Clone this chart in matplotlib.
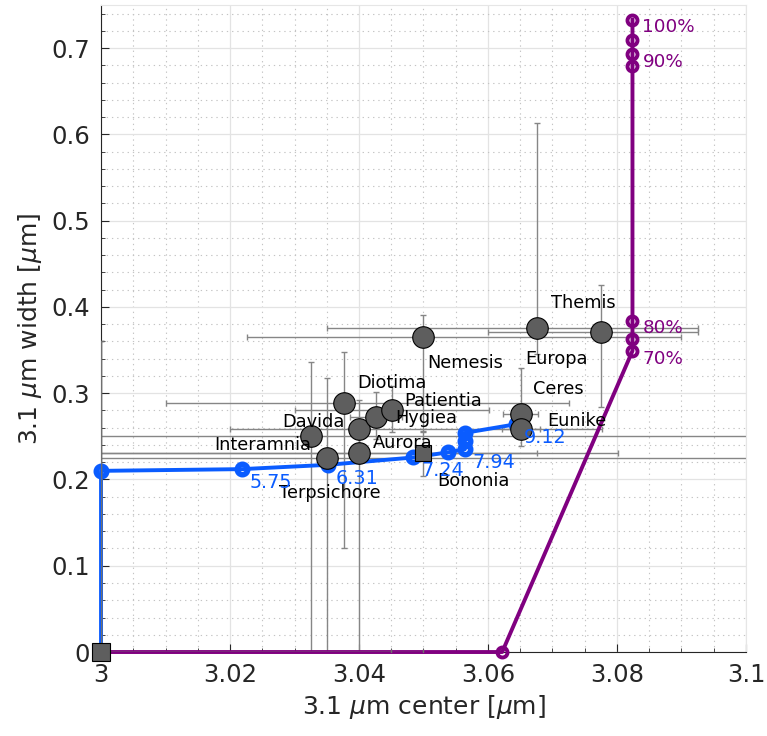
import matplotlib
matplotlib.use("Agg")
import matplotlib.pyplot as plt
from matplotlib.ticker import MultipleLocator, FixedLocator, FixedFormatter

plt.rcParams['font.family'] = ['DejaVu Sans']
plt.rcParams['mathtext.fontset'] = 'dejavusans'

# ---- asteroid band fits: center / width with asymmetric uncertainties ----
names = ["Davida", "Terpsichore", "Diotima", "Interamnia", "Aurora", "Hygiea",
         "Patientia", "Nemesis", "Bononia", "Europa", "Themis", "Ceres", "Eunike"]
center = [3.0325, 3.0350, 3.0376, 3.0400, 3.0400, 3.0426,
          3.0451, 3.0500, 3.0500, 3.0676, 3.0775, 3.0651, 3.0651]
width = [0.2503, 0.2252, 0.2892, 0.2581, 0.2302, 0.2729,
         0.2802, 0.3655, 0.2308, 0.3752, 0.3706, 0.2756, 0.2581]
center_lo = [0.080, 0.075, 0.0275, 0.020, 0.045, 0.004,
             0.015, 0.0274, 0.055, 0.0326, 0.0175, 0.0027, 0.003]
center_hi = [0.080, 0.075, 0.035, 0.0377, 0.0402, 0.004,
             0.015, 0.040, 0.0176, 0.025, 0.015, 0.0027, 0.003]
width_lo = [0.26, 0.235, 0.169, 0.034, 0.24, 0.026,
            0.025, 0.11, 0.027, 0.030, 0.087, 0.02, 0.019]
width_hi = [0.086, 0.093, 0.058, 0.034, 0.030, 0.028,
            0.028, 0.025, 0.025, 0.2376, 0.055, 0.054, 0.020]
shapes = ['o', 'o', 'o', 'o', 'o', 'o', 'o', 'o', 's', 'o', 'o', 'o', 'o']
# label offsets (points) relative to each marker
label_dx = [1.7, 2.4, 35.1, -69.1, 31.7, 36.7, 36.9, 30.0, 35.8, 13.9, -12.7, 27.2, 40.5]
label_dy = [10.1, -25.2, 13.9, -11.5, 7.2, -0.7, 6.7, -18.9, -20.3, -22.1, 21.1, 18.0, 6.0]

# objects without a detected band, parked at the origin
nb_center = [3.0, 3.0]
nb_width = [0.0, 0.0]
nb_center_hi = [0.05, 0.045]
nb_width_hi = [0.36, 0.36]

# ---- model track 1 (blue), labelled by parameter value ----
blue_x = [3.0, 3.0, 3.0218, 3.0352, 3.0484, 3.0538, 3.0564, 3.0564, 3.0564, 3.0643]
blue_y = [0.0, 0.210, 0.212, 0.217, 0.2255, 0.2315, 0.235, 0.2446, 0.254, 0.264]
blue_labels = {2: "5.75", 3: "6.31", 4: "7.24", 6: "7.94", 9: "9.12"}

# ---- model track 2 (purple), labelled by percentage ----
purple_x = [3.0, 3.0622, 3.0824, 3.0824, 3.0824, 3.0824, 3.0824, 3.0824, 3.0824]
purple_y = [0.0, 0.0, 0.349, 0.363, 0.384, 0.679, 0.693, 0.709, 0.733]
purple_labels = {2: "70%", 4: "80%", 6: "90%", 8: "100%"}

x_ticks = [3.0, 3.02, 3.04, 3.06, 3.08, 3.1]
x_ticklabels = ["3", "3.02", "3.04", "3.06", "3.08", "3.1"]
y_ticks = [0, 0.1, 0.2, 0.3, 0.4, 0.5, 0.6, 0.7]
y_ticklabels = ["0", "0.1", "0.2", "0.3", "0.4", "0.5", "0.6", "0.7"]

BLUE = '#0a5cff'
PURPLE = '#800080'
GRAY_FACE = '#5e5e5e'
ERR = '#868686'
TXT = '#262626'

fig = plt.figure(figsize=(7.67, 7.36), dpi=100)
ax = fig.add_axes([0.1317, 0.1141, 0.8409, 0.8791])

ax.set_xlim(3.0, 3.1)
ax.set_ylim(0, 0.75)

# ticks and grid
ax.xaxis.set_major_locator(FixedLocator(x_ticks))
ax.xaxis.set_major_formatter(FixedFormatter(x_ticklabels))
ax.yaxis.set_major_locator(FixedLocator(y_ticks))
ax.yaxis.set_major_formatter(FixedFormatter(y_ticklabels))
ax.xaxis.set_minor_locator(MultipleLocator(0.005))
ax.yaxis.set_minor_locator(MultipleLocator(0.02))
ax.set_axisbelow(True)
ax.grid(which='major', color='#e3e3e3', linewidth=0.9, linestyle='-')
ax.grid(which='minor', color='#c4c4c4', linewidth=0.8, linestyle=(0, (1.2, 3.5)))

# error bars
for i in range(len(names)):
    ax.errorbar([center[i]], [width[i]],
                xerr=[[center_lo[i]], [center_hi[i]]],
                yerr=[[width_lo[i]], [width_hi[i]]],
                fmt='none', ecolor=ERR, elinewidth=1.0, capsize=2.5,
                capthick=1.0, zorder=2)
for i in range(len(nb_center)):
    ax.errorbar([nb_center[i]], [nb_width[i]],
                xerr=[[0], [nb_center_hi[i]]], yerr=[[0], [nb_width_hi[i]]],
                fmt='none', ecolor='#707070', elinewidth=1.0, capsize=2.5,
                capthick=1.0, zorder=4.5)

# model tracks
ax.plot(blue_x, blue_y, color=BLUE, linewidth=2.8, marker='o', markersize=7.5,
        markeredgewidth=4.0, markerfacecolor='none', markeredgecolor=BLUE,
        zorder=4, clip_on=False)
ax.plot(purple_x, purple_y, color=PURPLE, linewidth=2.8, marker='o', markersize=7.2,
        markeredgewidth=2.8, markerfacecolor='none', markeredgecolor=PURPLE,
        zorder=4, clip_on=False)

# asteroid markers
for i in range(len(names)):
    ms = 15.5 if shapes[i] == 'o' else 11.5
    ax.plot([center[i]], [width[i]], linestyle='none', marker=shapes[i],
            markersize=ms, markerfacecolor=GRAY_FACE, markeredgecolor='black',
            markeredgewidth=0.8, zorder=5)
ax.plot(nb_center[:1], nb_width[:1], linestyle='none', marker='s', markersize=13,
        markerfacecolor=GRAY_FACE, markeredgecolor='black', markeredgewidth=0.8,
        zorder=5, clip_on=False)

# labels
for i, nm in enumerate(names):
    ax.annotate(nm, (center[i], width[i]), xytext=(label_dx[i], label_dy[i]),
                textcoords='offset points', ha='center', va='center',
                fontsize=12.8, color='black', zorder=7)
for i, t in blue_labels.items():
    ax.annotate(t, (blue_x[i], blue_y[i]), xytext=(5.8, -9.6),
                textcoords='offset points', ha='left', va='center',
                fontsize=13.8, color=BLUE, zorder=7)
for i, t in purple_labels.items():
    ax.annotate(t, (purple_x[i], purple_y[i]), xytext=(7.2, -5.5),
                textcoords='offset points', ha='left', va='center',
                fontsize=13.2, color=PURPLE, zorder=7)

# axes styling
for side in ['top', 'right']:
    ax.spines[side].set_color('#e6e6e6')
    ax.spines[side].set_linewidth(0.8)
for side in ['left', 'bottom']:
    ax.spines[side].set_color(TXT)
    ax.spines[side].set_linewidth(0.8)
ax.tick_params(which='both', direction='in', colors=TXT, top=False, right=False)
ax.tick_params(which='major', length=6, width=0.8, labelsize=17.5, pad=8)
ax.tick_params(which='minor', length=3, width=0.6)

ax.set_xlabel(r'3.1 $\mu$m center [$\mu$m]', fontsize=18, color=TXT, labelpad=4)
ax.set_ylabel(r'3.1 $\mu$m width [$\mu$m]', fontsize=18, color=TXT, labelpad=5)

fig.savefig('out.png', dpi=100)
